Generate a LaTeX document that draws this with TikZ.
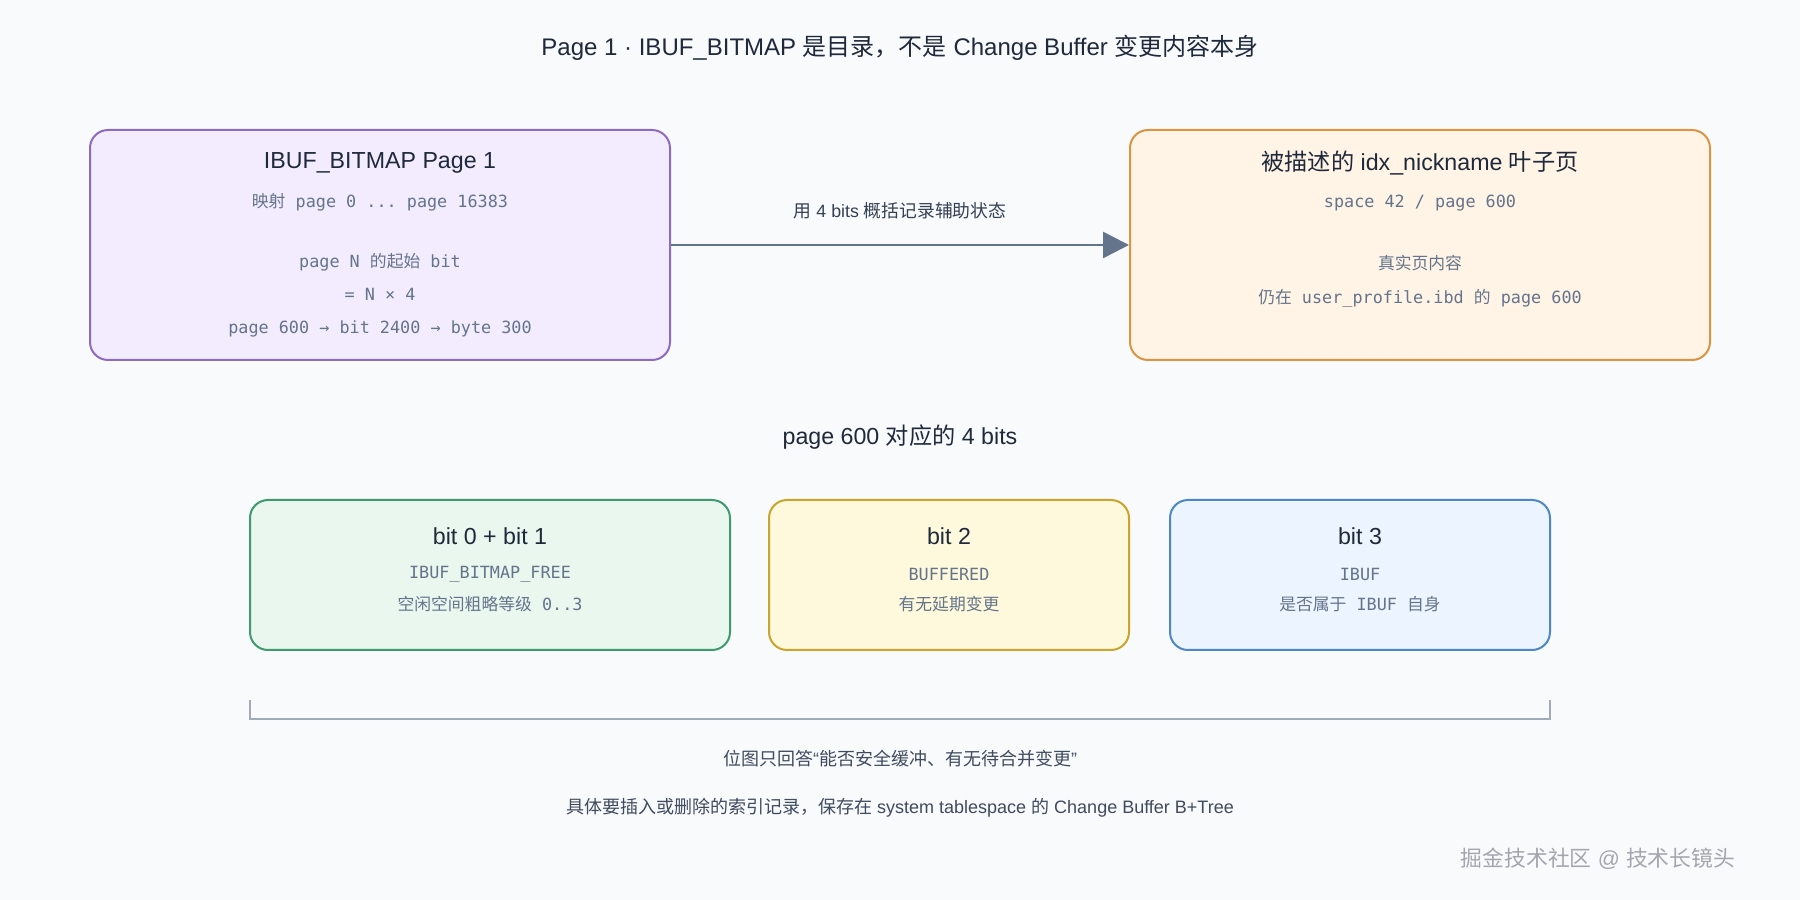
\documentclass[tikz,border=0pt]{standalone}
\usepackage{fontspec}
\usepackage{xcolor}
\usepackage{tikz}
\setmainfont{Liberation Sans}
\setsansfont{Liberation Sans}
\setmonofont{DejaVu Sans Mono}
\newfontfamily\cjk{Noto Sans CJK SC}
\newcommand{\zh}[1]{{\cjk #1}}
\usetikzlibrary{arrows.meta, positioning, calc}
\definecolor{pagebg}{HTML}{F8FAFC}
\definecolor{inkdark}{HTML}{1E293B}
\definecolor{inkmid}{HTML}{334155}
\definecolor{inksoft}{HTML}{64748B}
\definecolor{notegray}{HTML}{3F4B5E}
\definecolor{bracketgray}{HTML}{A0AABA}
\definecolor{bitmappurple}{HTML}{8D6CC0}
\definecolor{bitmapfill}{HTML}{F3ECFE}
\definecolor{leafamber}{HTML}{DB9443}
\definecolor{leaffill}{HTML}{FFF4E6}
\definecolor{freegreen}{HTML}{3F9A6E}
\definecolor{freefill}{HTML}{EAF7EF}
\definecolor{bufgold}{HTML}{C9A42E}
\definecolor{buffill}{HTML}{FEF9DC}
\definecolor{ibufblue}{HTML}{4D87C6}
\definecolor{ibuffill}{HTML}{EBF4FF}
\definecolor{markgray}{HTML}{A3A7AD}

\begin{document}
\begin{tikzpicture}[x=0.5pt, y=0.5pt,
    box/.style={rectangle, rounded corners=9pt, line width=1pt, inner sep=0pt},
    head/.style={font=\fontsize{11.6pt}{13pt}\selectfont, text=inkdark, inner sep=1pt},
    code/.style={font=\ttfamily\fontsize{8.4pt}{10pt}\selectfont, text=inksoft, inner sep=1pt},
    conn/.style={-{Triangle[length=13pt, width=13pt]}, line width=1.3pt, inksoft},
    lbl/.style={font=\fontsize{8.9pt}{10pt}\selectfont, text=inkmid, midway, above=9pt},
    note/.style={font=\fontsize{9pt}{11pt}\selectfont, text=notegray}]

    \fill[pagebg] (0,0) rectangle (1800,900);
    \useasboundingbox (0,0) rectangle (1800,900);

    % Title
    \node (title) [font=\fontsize{12pt}{14pt}\selectfont, text=inkdark] at (900,852)
      {Page 1 · IBUF\_BITMAP \zh{是目录，不是} Change Buffer \zh{变更内容本身}};

    % Bitmap page
    \node (bmp) [box, draw=bitmappurple, fill=bitmapfill, minimum width=290pt, minimum height=115pt]
      at (380,655) {};
    \node (bmph) [head] at ($(bmp.north)+(0,-34)$) {IBUF\_BITMAP Page 1};
    \node (bmp1) [code] at ($(bmp.north)+(0,-73)$) {\zh{映射} page 0 ... page 16383};
    \node (bmp2) [code] at ($(bmp.north)+(0,-133)$) {page N \zh{的起始} bit};
    \node (bmp3) [code] at ($(bmp.north)+(0,-165)$) {= N × 4};
    \node (bmp4) [code] at ($(bmp.north)+(0,-200)$) {page 600 → bit 2400 → byte 300};

    % Leaf page
    \node (leaf) [box, draw=leafamber, fill=leaffill, minimum width=290pt, minimum height=115pt]
      at (1420,655) {};
    \node (leafh) [head] at ($(leaf.north)+(0,-34)$) {\zh{被描述的} idx\_nickname \zh{叶子页}};
    \node (leaf1) [code] at ($(leaf.north)+(0,-74)$) {space 42 / page 600};
    \node (leaf2) [code] at ($(leaf.north)+(0,-134)$) {\zh{真实页内容}};
    \node (leaf3) [code] at ($(leaf.north)+(0,-169)$) {\zh{仍在} user\_profile.ibd \zh{的} page 600};

    \draw[conn] (bmp) -- (leaf) node[lbl] {\zh{用} 4 bits \zh{概括记录辅助状态}};

    % The 4 bits
    \node (sect) [font=\fontsize{11.6pt}{13pt}\selectfont, text=inkdark] at (900,463)
      {page 600 \zh{对应的} 4 bits};

    \node (free) [box, draw=freegreen, fill=freefill, minimum width=240pt, minimum height=75pt]
      at (490,325) {};
    \node (freeh) [head] at ($(free.north)+(0,-37)$) {bit 0 + bit 1};
    \node (free1) [code] at ($(free.north)+(0,-75)$) {IBUF\_BITMAP\_FREE};
    \node (free2) [code] at ($(free.north)+(0,-105)$) {\zh{空闲空间粗略等级} 0..3};

    \node (buf) [box, draw=bufgold, fill=buffill, minimum width=180pt, minimum height=75pt]
      at (949,325) {};
    \node (bufh) [head] at ($(buf.north)+(0,-37)$) {bit 2};
    \node (buf1) [code] at ($(buf.north)+(0,-75)$) {BUFFERED};
    \node (buf2) [code] at ($(buf.north)+(0,-105)$) {\zh{有无延期变更}};

    \node (ibuf) [box, draw=ibufblue, fill=ibuffill, minimum width=190pt, minimum height=75pt]
      at (1360,325) {};
    \node (ibufh) [head] at ($(ibuf.north)+(0,-37)$) {bit 3};
    \node (ibuf1) [code] at ($(ibuf.north)+(0,-75)$) {IBUF};
    \node (ibuf2) [code] at ($(ibuf.north)+(0,-105)$) {\zh{是否属于} IBUF \zh{自身}};

    % Bracket and notes
    \coordinate (brl) at (250,200);
    \coordinate (brr) at (1550,200);
    \draw[bracketgray, line width=1pt] (brl) -- ++(0,-19) -| (brr);

    \node (note1) [note] at (900,141) {\zh{位图只回答}“\zh{能否安全缓冲、有无待合并变更}”};
    \node (note2) [note] at (900,92)
      {\zh{具体要插入或删除的索引记录，保存在} system tablespace \zh{的} Change Buffer B+Tree};

    \node (mark) [font=\fontsize{10.9pt}{13pt}\selectfont, text=markgray] at (1598,41)
      {\zh{掘金技术社区} @ \zh{技术长镜头}};
\end{tikzpicture}
\end{document}
